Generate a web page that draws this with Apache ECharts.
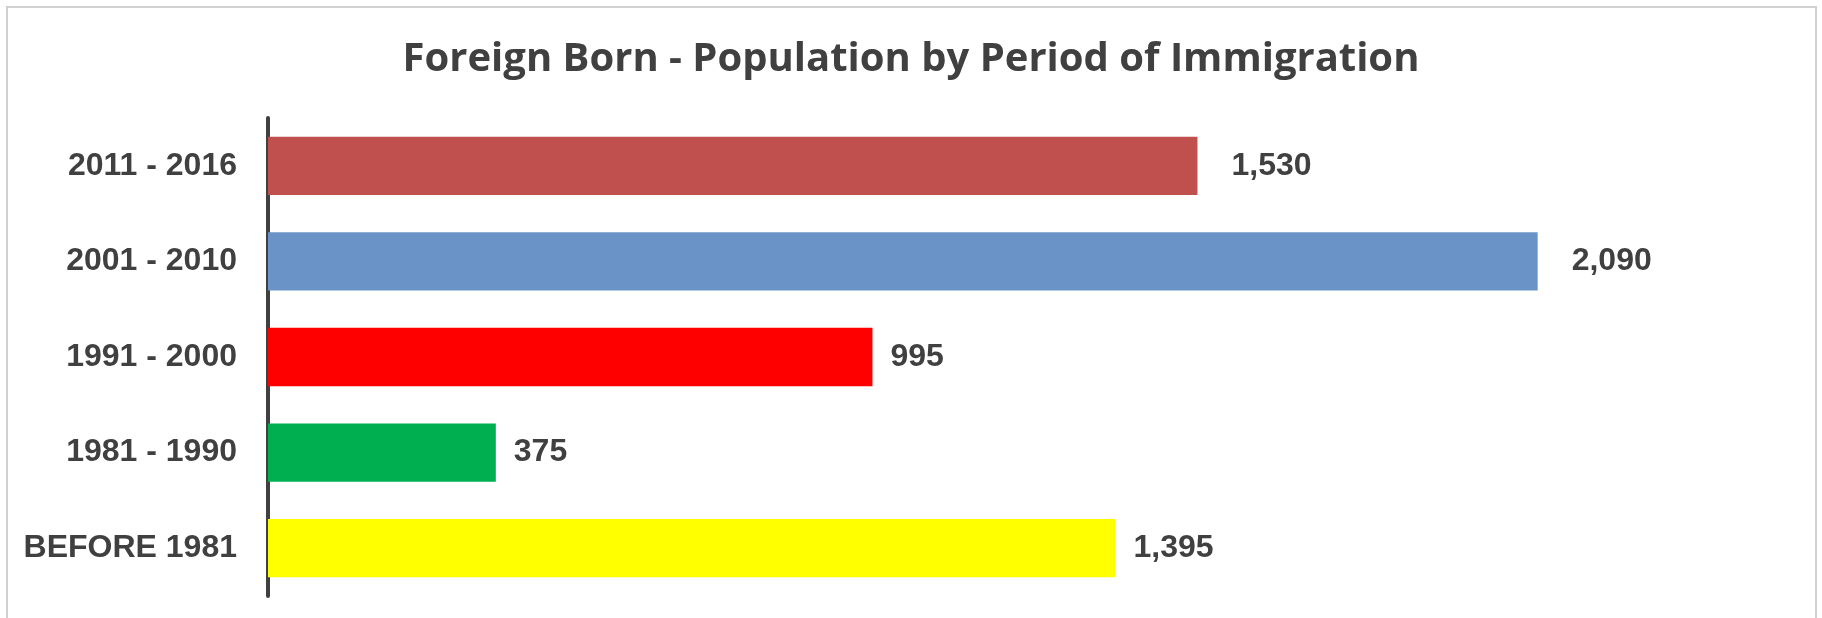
<!DOCTYPE html>
<html>
<head>
<meta charset="utf-8">
<script src="https://cdn.jsdelivr.net/npm/echarts@6/dist/echarts.min.js"></script>
<style>
html,body{margin:0;padding:0;background:#fff;}
#chart{width:1822px;height:618px;}
</style>
</head>
<body>
<div id="chart"></div>
<script>
const titleText = 'Foreign Born - Population by Period of Immigration';
const categories = ['2011 - 2016', '2001 - 2010', '1991 - 2000', '1981 - 1990', 'BEFORE 1981'];
const values = [1530, 2090, 995, 375, 1395];
const barColors = ['#C0504D', '#6A94C7', '#FF0000', '#00B050', '#FFFF00'];
const labelGaps = [34, 34, 18, 18, 18];

const chart = echarts.init(document.getElementById('chart'), null, {renderer: 'canvas'});
const option = {
  backgroundColor: '#ffffff',
  animation: false,
  title: {
    text: titleText,
    left: 'center',
    top: 35,
    textStyle: {
      fontFamily: 'Open Sans',
      fontWeight: 'bold',
      fontSize: 40,
      color: '#404040'
    }
  },
  graphic: [{
    type: 'rect',
    shape: {x: 7, y: 7, width: 1809, height: 640},
    style: {fill: 'none', stroke: '#D0D0D0', lineWidth: 2},
    silent: true
  }],
  grid: {left: 268, top: 118, width: 1458, height: 478, containLabel: false},
  xAxis: {
    type: 'value', min: 0, max: 2400,
    show: false,
    splitLine: {show: false}
  },
  yAxis: {
    type: 'category',
    data: categories,
    inverse: true,
    axisLine: {show: true, lineStyle: {color: '#404040', width: 4}},
    axisTick: {show: false},
    axisLabel: {
      margin: 31,
      fontFamily: 'Liberation Sans',
      fontWeight: 'bold',
      fontSize: 32,
      color: '#404040'
    }
  },
  series: [{
    type: 'bar',
    barCategoryGap: '39%',
    data: values.map((v, i) => ({
      value: v,
      itemStyle: {color: barColors[i]},
      label: {distance: labelGaps[i]}
    })),
    label: {
      show: true,
      position: 'right',
      fontFamily: 'Liberation Sans',
      fontWeight: 'bold',
      fontSize: 32,
      color: '#404040',
      formatter: p => p.value.toLocaleString('en-US')
    }
  }]
};
chart.setOption(option);
</script>
</body>
</html>
